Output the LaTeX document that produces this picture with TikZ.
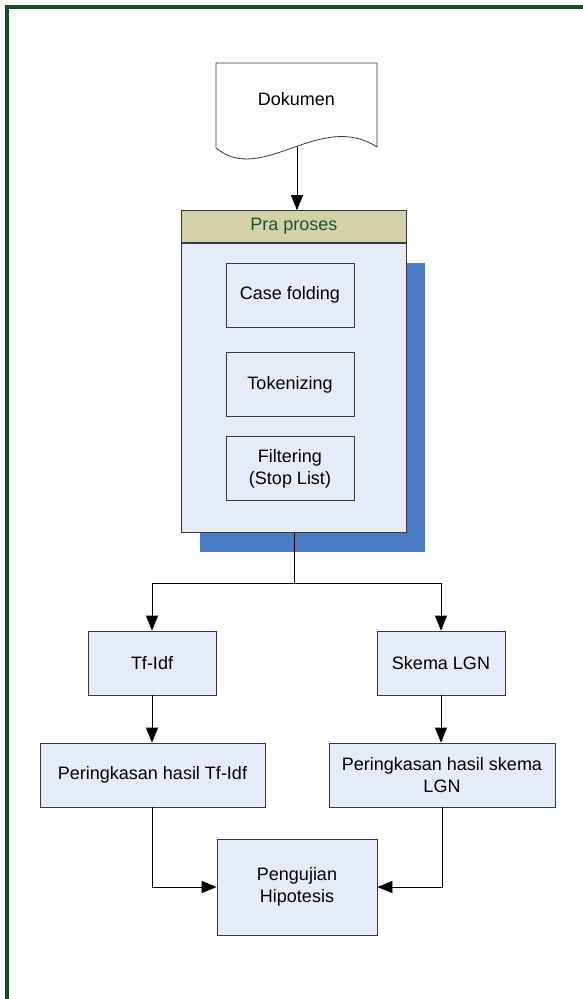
\documentclass[tikz,border=0pt]{standalone}
\usepackage{fontspec}
\setmainfont{Liberation Sans}
\usetikzlibrary{positioning,arrows.meta}
\definecolor{framegreen}{HTML}{1C4A2B}
\definecolor{boxfill}{HTML}{E6ECF7}
\definecolor{headfill}{HTML}{D3D1A8}
\definecolor{headtext}{HTML}{1F5230}
\definecolor{shadowblue}{HTML}{4A7BC4}
\definecolor{edgegrey}{HTML}{3A3A3A}

\begin{document}
\begin{tikzpicture}[x=1pt,y=-1pt,
  every node/.style={font=\fontsize{18}{22}\selectfont},
  box/.style={draw=edgegrey, fill=boxfill, align=center, inner sep=0pt, line width=0.8pt},
  smallbox/.style={box, minimum width=128pt, minimum height=64pt},
  link/.style={draw=black, line width=0.8pt},
  arr/.style={link, -{Triangle[length=15pt,width=12pt]}}]
\useasboundingbox (0,0) rectangle (582,999);
\draw[framegreen, line width=4pt] (7,7) rectangle (590,1001);

% dokumen
\draw[edgegrey, line width=0.8pt, fill=white] (216,148) -- (216,63) -- (377,63) -- (377,147)
  .. controls (320,110) and (262,186) .. (216,148);
\node (doc) at (296.5,99) {Dokumen};
\coordinate (docend) at (297,147);

% pra proses
\fill[shadowblue] (200,263) rectangle (425,552);
\node[box, minimum width=225pt, minimum height=289pt, anchor=north west] (pra) at (181,243) {};
\node[box, fill=headfill, text=headtext, minimum width=225pt, minimum height=32pt, anchor=south west] (prahead) at (181,243) {Pra proses};
\node[smallbox] (casefold) at (290,295) {Case folding};
\node[smallbox, below=25pt of casefold] (token) {Tokenizing};
\node[smallbox, below=19pt of token] (filter) {Filtering\\(Stop List)};

% metode
\node[smallbox] (tfidf) at (152,663) {Tf-Idf};
\node[smallbox] (skema) at (441,663) {Skema LGN};
\node[box, minimum width=225pt, minimum height=64pt] (ringL) at (152.5,775) {Peringkasan hasil Tf-Idf};
\node[box, minimum width=226pt, minimum height=64pt] (ringR) at (442,775) {Peringkasan hasil skema\\LGN};
\node[box, minimum width=160pt, minimum height=96pt] (hipo) at (297,887) {Pengujian\\Hipotesis};

\draw[arr] (docend) -- (docend |- prahead.north);
\draw[link] (pra.south) -- ++(0,51) coordinate (fork);
\draw[arr] (fork) -| (tfidf.north);
\draw[arr] (fork) -| (skema.north);
\draw[arr] (tfidf.south) -- (tfidf.south |- ringL.north);
\draw[arr] (skema.south) -- (skema.south |- ringR.north);
\draw[arr] (ringL.south) |- (hipo.west);
\draw[arr] (ringR.south) |- (hipo.east);
\end{tikzpicture}
\end{document}
